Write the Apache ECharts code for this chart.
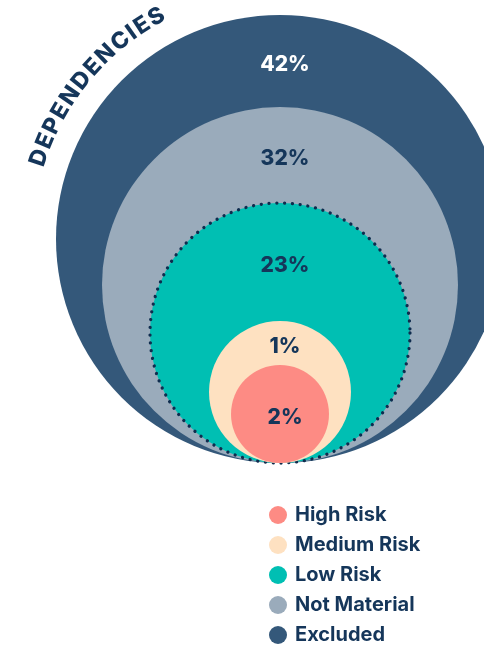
<!DOCTYPE html>
<html>
<head>
<meta charset="utf-8">
<script src="https://cdn.jsdelivr.net/npm/echarts@6/dist/echarts.min.js"></script>
<style>
html,body{margin:0;padding:0;background:#fff;}
#chart{width:484px;height:646px;}
</style>
</head>
<body>
<div id="chart"></div>
<script>
// ---- data ----
const categories = ['High Risk', 'Medium Risk', 'Low Risk', 'Not Material', 'Excluded'];
const shares = [2, 1, 23, 32, 42];
const titleText = 'DEPENDENCIES';

// ---- layout / style (not data) ----
const ringRadius = [49, 71, 130, 178, 224];   // design radii (px units on a 1:1 axis)
const ringColors = ['#fd8b84', '#fee1c1', '#00bfb3', '#9aabbb', '#34587a'];
const labelColors = ['#15365a', '#15365a', '#15365a', '#15365a', '#ffffff'];
const navy = '#15365a';
const FONT = 'Inter, "Open Sans", "Noto Sans", sans-serif';

const chart = echarts.init(document.getElementById('chart'));

function makeSeries(i) {
  const inner = i > 0 ? ringRadius[i - 1] : null;
  return {
    type: 'custom',
    name: categories[i],
    coordinateSystem: 'cartesian2d',
    itemStyle: { color: ringColors[i] },
    silent: true,
    z: 10 - i,
    data: [[0, ringRadius[i], inner === null ? -1 : inner, shares[i]]],
    renderItem: function (params, api) {
      const r = api.value(1);
      const innerR = api.value(2);
      const c = api.coord([0, r]);
      const rp = api.size([r, r])[1];
      let ly;
      if (innerR < 0) {
        ly = c[1];
      } else {
        ly = api.coord([0, r + innerR])[1];
      }
      const circleStyle = { fill: ringColors[i] };
      if (categories[i] === 'Low Risk') {
        circleStyle.stroke = '#0e2c4e';
        circleStyle.lineWidth = 3.3;
        circleStyle.lineDash = [0.01, 7.8];
        circleStyle.lineCap = 'round';
      }
      return {
        type: 'group',
        children: [
          { type: 'circle', shape: { cx: c[0], cy: c[1], r: rp }, style: circleStyle },
          {
            type: 'text',
            z2: 5,
            style: {
              text: api.value(3) + '%',
              x: c[0] + 5, y: ly + 4,
              align: 'center', verticalAlign: 'middle',
              fill: labelColors[i],
              font: '800 21px ' + FONT
            }
          }
        ]
      };
    }
  };
}

const series = [];
for (let i = categories.length - 1; i >= 0; i--) series.push(makeSeries(i));

chart.setOption({
  animation: false,
  grid: { left: 0, right: 0, top: 0, bottom: 0 },
  xAxis: { type: 'value', min: -280, max: 204, show: false },
  yAxis: { type: 'value', min: -183, max: 463, show: false },
  legend: {
    orient: 'vertical',
    left: 269,
    top: 505,
    padding: 0,
    icon: 'circle',
    itemWidth: 18,
    itemHeight: 18,
    itemGap: 10,
    data: categories.slice(),
    selectedMode: false,
    textStyle: {
      color: navy,
      fontFamily: FONT,
      fontWeight: 700,
      fontSize: 20,
      lineHeight: 18,
      padding: [0, 0, 0, 3]
    }
  },
  series: series
});

// curved title along the outer circle
(function () {
  const outerR = ringRadius[ringRadius.length - 1];
  const center = chart.convertToPixel({ gridIndex: 0 }, [0, outerR]);
  const arcR = 254;
  const font = '800 23px ' + FONT;
  const ctx = document.createElement('canvas').getContext('2d');
  ctx.font = font;
  const chars = titleText.split('');
  const widths = chars.map(ch => ctx.measureText(ch).width);
  const startDeg = 198.7, endDeg = 240.9;
  const targetLen = (endDeg - startDeg) * Math.PI / 180 * arcR;
  let natural = 0;
  for (let k = 0; k < chars.length - 1; k++) natural += widths[k] / 2 + widths[k + 1] / 2;
  const extra = (targetLen - natural) / (chars.length - 1);
  const elements = [];
  let s = 0;
  for (let k = 0; k < chars.length; k++) {
    if (k > 0) s += widths[k - 1] / 2 + widths[k] / 2 + extra;
    const th = startDeg * Math.PI / 180 + s / arcR;
    const x = center[0] + arcR * Math.cos(th);
    const y = center[1] + arcR * Math.sin(th);
    elements.push({
      type: 'text',
      x: x, y: y,
      rotation: -(th + Math.PI / 2),
      style: {
        text: chars[k], x: 0, y: 0,
        align: 'center', verticalAlign: 'middle',
        fill: navy, font: font
      }
    });
  }
  chart.setOption({ graphic: { elements: elements } });
})();
</script>
</body>
</html>
